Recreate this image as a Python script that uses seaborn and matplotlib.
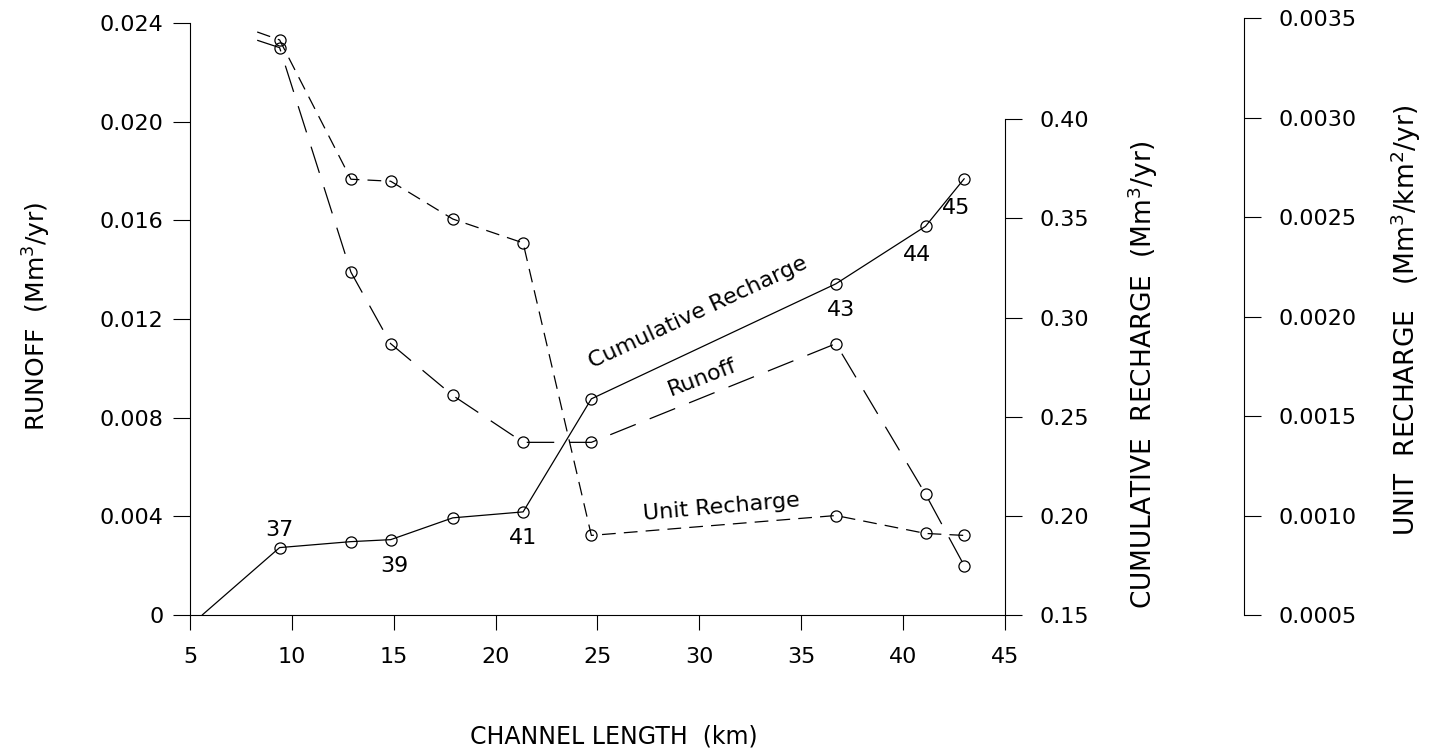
import matplotlib
matplotlib.use("Agg")
import matplotlib.pyplot as plt
import seaborn as sns
import pandas as pd

# stations along the channel (km) and their numbers
station_km = [9.4, 12.9, 14.85, 17.9, 21.35, 24.7, 36.7, 41.1, 43.0]
station_ids = ["37", "", "39", "", "41", "", "43", "44", "45"]

# values read at each station
runoff = [0.0230, 0.0139, 0.0110, 0.0089, 0.0070, 0.0070, 0.0110, 0.0049, 0.0020]
cum_recharge = [0.184, 0.187, 0.188, 0.199, 0.202, 0.259, 0.317, 0.346, 0.370]
unit_recharge = [0.00339, 0.00269, 0.00268, 0.00249, 0.00237, 0.00090, 0.00100, 0.00091, 0.00090]

# upstream ends of the curves (no marker there)
runoff_start = (8.3, 0.0233)
cum_start = (5.6, 0.150)
unit_start = (8.3, 0.00343)

x_ticks = [5, 10, 15, 20, 25, 30, 35, 40, 45]
runoff_ticks = [0, 0.004, 0.008, 0.012, 0.016, 0.020, 0.024]
runoff_ticklabels = ["0", "0.004", "0.008", "0.012", "0.016", "0.020", "0.024"]
cum_ticks = [0.15, 0.20, 0.25, 0.30, 0.35, 0.40]
cum_ticklabels = ["0.15", "0.20", "0.25", "0.30", "0.35", "0.40"]
unit_ticks = [0.0005, 0.0010, 0.0015, 0.0020, 0.0025, 0.0030, 0.0035]
unit_ticklabels = ["0.0005", "0.0010", "0.0015", "0.0020", "0.0025", "0.0030", "0.0035"]

# offsets (points) of the station numbers from their circle
label_offsets = {"37": (0, 13), "39": (3, -19), "41": (0, -19),
                 "43": (4, -19), "44": (-6, -21), "45": (-6, -21)}

sns.set_style("ticks", {"axes.edgecolor": "black", "xtick.color": "black",
                        "ytick.color": "black", "text.color": "black",
                        "axes.labelcolor": "black"})
plt.rcParams["font.family"] = ["DejaVu Sans"]
plt.rcParams["axes.linewidth"] = 0.8

fig = plt.figure(figsize=(14.5, 7.55), dpi=100)
ax = fig.add_axes([0.131, 0.1854, 0.5621, 0.7907])
ax_c = ax.twinx()
ax_u = ax.twinx()


def series_frame(start, values):
    return pd.DataFrame({"km": [start[0]] + station_km, "val": [start[1]] + values})


def draw(axis, df, ls):
    sns.lineplot(data=df, x="km", y="val", ax=axis, sort=False, errorbar=None,
                 color="black", linewidth=0.9, linestyle=ls,
                 marker="o", markersize=8, markerfacecolor="none",
                 markeredgecolor="black", markeredgewidth=0.9,
                 markevery=list(range(1, len(df))))


draw(ax, series_frame(runoff_start, runoff), (0, (22, 12)))
draw(ax_c, series_frame(cum_start, cum_recharge), "-")
draw(ax_u, series_frame(unit_start, unit_recharge), (0, (11, 6.5)))

# limits
ax.set_xlim(5, 45)
ax.set_ylim(0, 0.0242)
ax_c.set_ylim(0.15, 0.451)
ax_u.set_ylim(0.0005, 0.0035)

# spines
ax.spines["top"].set_visible(False)
ax.spines["right"].set_visible(False)
ax.spines["left"].set_bounds(0, 0.024)
ax.spines["bottom"].set_bounds(5, 45)
for a in (ax_c, ax_u):
    for s in ("top", "left", "bottom"):
        a.spines[s].set_visible(False)
ax_c.spines["right"].set_bounds(0.15, 0.40)
ax_u.spines["right"].set_position(("axes", 1.293))
ax_u.spines["right"].set_bounds(0.0005, 0.0035)

# ticks
ax.set_xticks(x_ticks)
ax.set_xticklabels([str(v) for v in x_ticks])
ax.set_yticks(runoff_ticks)
ax.set_yticklabels(runoff_ticklabels)
ax_c.set_yticks(cum_ticks)
ax_c.set_yticklabels(cum_ticklabels)
ax_u.set_yticks(unit_ticks)
ax_u.set_yticklabels(unit_ticklabels)
ax.tick_params(axis="x", direction="out", length=11, width=0.8, pad=12, labelsize=16)
ax.tick_params(axis="y", direction="out", length=12, width=0.8, pad=7, labelsize=16)
for a in (ax_c, ax_u):
    a.tick_params(axis="y", direction="out", length=12, width=0.8, pad=13, labelsize=16)

# axis titles
ax.set_xlabel("CHANNEL LENGTH  (km)", fontsize=17)
ax.xaxis.set_label_coords(0.52, -0.184)
ax.set_ylabel("RUNOFF  (Mm$^{3}$/yr)", fontsize=18)
ax.yaxis.set_label_coords(-0.168, 0.50)
ax_c.set_ylabel("CUMULATIVE  RECHARGE  (Mm$^{3}$/yr)", fontsize=19)
ax_c.yaxis.set_label_coords(1.148, 0.402)
ax_u.set_ylabel("UNIT  RECHARGE   (Mm$^{3}$/km$^{2}$/yr)", fontsize=19)
ax_u.yaxis.set_label_coords(1.47, 0.494)
for a in (ax_c, ax_u):
    a.yaxis.label.set_rotation(90)

# curve names
ax_c.text(29.93, 0.3027, "Cumulative Recharge", rotation=25, rotation_mode="anchor",
          ha="center", va="center", fontsize=16)
ax.text(30.13, 0.00961, "Runoff", rotation=21, rotation_mode="anchor",
        ha="center", va="center", fontsize=16)
ax_u.text(31.06, 0.00104, "Unit Recharge", rotation=5, rotation_mode="anchor",
          ha="center", va="center", fontsize=16)

# station numbers on the cumulative curve
for km, val, sid in zip(station_km, cum_recharge, station_ids):
    if sid:
        ax_c.annotate(sid, (km, val), xytext=label_offsets[sid], textcoords="offset points",
                      ha="center", va="center", fontsize=16)

fig.savefig("out.png", dpi=100)
